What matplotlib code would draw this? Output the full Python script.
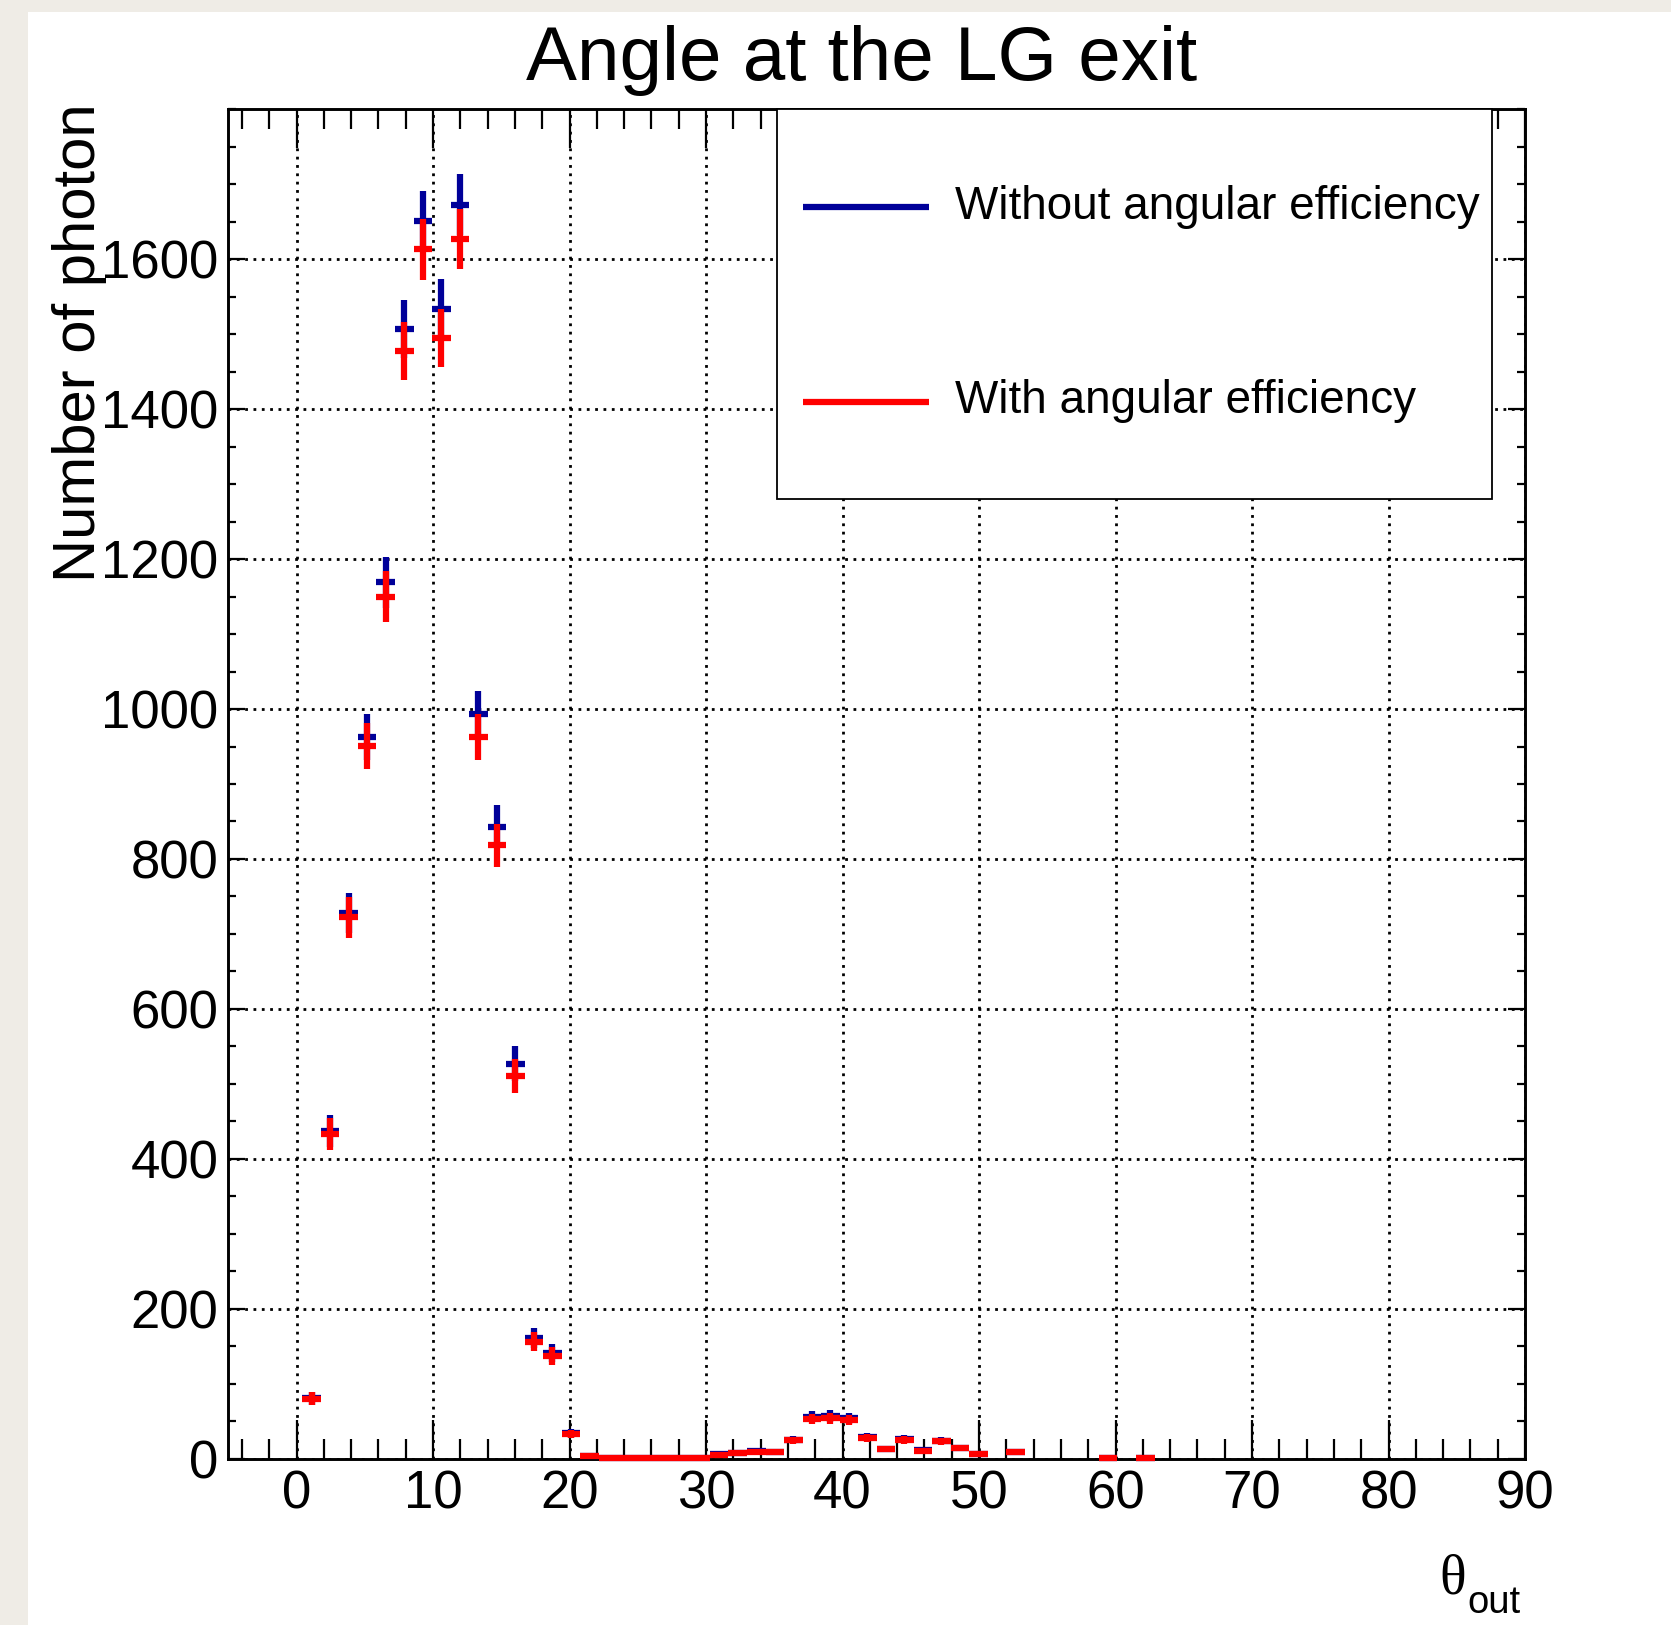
import numpy as np
import matplotlib
matplotlib.use("Agg")
import matplotlib.pyplot as plt
from matplotlib.patches import Rectangle
from matplotlib.lines import Line2D
from matplotlib.ticker import MultipleLocator

# ---------------- data ----------------
x_min, x_max, n_bins = -5.0, 90.0, 70
first_bin = 4  # index of first listed bin
series_names = ["Without angular efficiency", "With angular efficiency"]
series_colors = ["#000099", "#ff0000"]
without_eff = [80.5, 437, 728, 963, 1169, 1507, 1651, 1534, 1673, 993, 843, 527,
               161, 141, 34, 3.6, 0.8, 0.5, 0.5, 0.5, 1.5, 1.5, 5.8, 7.3, 10, 9,
               25.5, 56, 57, 54, 29.5, 13.5, 26, 11, 24, 14.5, 6.2, 0, 9.2,
               0, 0, 0, 0, 0.3, 0, 0.3]
with_eff = [80, 433, 722, 951, 1150, 1478, 1613, 1495, 1627, 963, 818, 510,
            156, 137, 33, 3.5, 0.8, 0.5, 0.5, 0.5, 1.4, 1.4, 5.6, 7, 9.6, 8.7,
            24.3, 53, 54, 51.5, 28, 13, 25, 10.5, 23, 14, 6, 0, 8.9,
            0, 0, 0, 0, 0.3, 0, 0.3]
x_ticks = [0, 10, 20, 30, 40, 50, 60, 70, 80, 90]
y_ticks = [0, 200, 400, 600, 800, 1000, 1200, 1400, 1600]
title = "Angle at the LG exit"
ylabel = "Number of photon"

# ---------------- figure ----------------
W, H, DPI = 1671, 1625, 100
fig = plt.figure(figsize=(W / DPI, H / DPI), dpi=DPI)
fig.patch.set_facecolor("#efece6")
fig.patches.append(Rectangle((28 / W, 0), 1 - 28 / W, 1 - 12 / H,
                             transform=fig.transFigure, facecolor="white",
                             edgecolor="none", zorder=-10))

FONT = "Liberation Sans"
ax_l, ax_r, ax_t, ax_b = 228.3, 1525, 109.3, 1458.7
ax = fig.add_axes([ax_l / W, 1 - ax_b / H, (ax_r - ax_l) / W, (ax_b - ax_t) / H])
ax.set_zorder(1)
ax.set_facecolor("white")

edges = np.linspace(x_min, x_max, n_bins + 1)
centers_all = 0.5 * (edges[:-1] + edges[1:])
half_w = 0.5 * (edges[1] - edges[0])

for vals, col in zip([without_eff, with_eff], series_colors):
    v = np.asarray(vals, dtype=float)
    c = centers_all[first_bin:first_bin + len(v)]
    m = v > 0
    eb = ax.errorbar(c[m], v[m], xerr=half_w, yerr=np.sqrt(v[m]), fmt="none",
                     ecolor=col, elinewidth=4.5, capsize=0, zorder=3)
    for coll in eb.lines[2]:
        coll.set_clip_on(False)
        coll.set_capstyle("butt")

ax.set_xlim(x_min, x_max)
ax.set_ylim(0, 1800)

ax.set_xticks(x_ticks)
ax.set_yticks(y_ticks)
ax.xaxis.set_minor_locator(MultipleLocator(2))
ax.yaxis.set_minor_locator(MultipleLocator(50))
ax.tick_params(which="both", direction="in", top=True, right=True, width=1.6,
               color="black")
ax.tick_params(axis="x", which="major", length=28, pad=8)
ax.tick_params(axis="x", which="minor", length=14.5)
ax.tick_params(axis="y", which="major", length=12, pad=7)
ax.tick_params(axis="y", which="minor", length=5.5)
for lab in ax.get_xticklabels() + ax.get_yticklabels():
    lab.set_fontfamily(FONT)
    lab.set_fontsize(38)

for s in ax.spines.values():
    s.set_linewidth(2.1)
    s.set_zorder(2.5)

ax.grid(True, which="major", color="black", linestyle=(0, (1.0, 2.0)),
        linewidth=2.0, zorder=1)
ax.set_axisbelow(True)

# legend (drawn as a box with entries)
lx0, lx1 = (777 - ax_l) / (ax_r - ax_l), (1492 - ax_l) / (ax_r - ax_l)
ly0 = (ax_b - 499) / (ax_b - ax_t)
ax.add_patch(Rectangle((lx0, ly0), lx1 - lx0, 1 - ly0, transform=ax.transAxes,
                       facecolor="white", edgecolor="black", linewidth=1.3,
                       zorder=4, clip_on=False))
line_x0 = (803 - ax_l) / (ax_r - ax_l)
line_x1 = (929 - ax_l) / (ax_r - ax_l)
text_x = (955 - ax_l) / (ax_r - ax_l)
line_ys = [(ax_b - 206.7) / (ax_b - ax_t), (ax_b - 401.7) / (ax_b - ax_t)]
text_ys = [(ax_b - 219) / (ax_b - ax_t), (ax_b - 413.3) / (ax_b - ax_t)]
for name, col, ly, ty in zip(series_names, series_colors, line_ys, text_ys):
    ax.add_line(Line2D([line_x0, line_x1], [ly, ly], transform=ax.transAxes,
                       color=col, linewidth=4.5, zorder=5, clip_on=False,
                       solid_capstyle="butt"))
    ax.text(text_x, ty, name, transform=ax.transAxes, fontfamily=FONT,
            fontsize=33, ha="left", va="baseline", zorder=5)

# title and axis labels
fig.text(862 / W, 1 - 80 / H, title, fontfamily=FONT, fontsize=55,
         ha="center", va="baseline")
fig.text(80 / W, 1 - 103 / H, ylabel, fontfamily=FONT, fontsize=43,
         rotation=90, ha="center", va="top")
fig.text(1439 / W, 1 - 1593 / H, "\u03b8", fontfamily="Liberation Serif",
         fontsize=40, ha="left", va="baseline")
fig.text(1467 / W, 1 - 1613 / H, "out", fontfamily=FONT, fontsize=27.5,
         ha="left", va="baseline")

fig.savefig("out.png", dpi=DPI, facecolor=fig.get_facecolor())
